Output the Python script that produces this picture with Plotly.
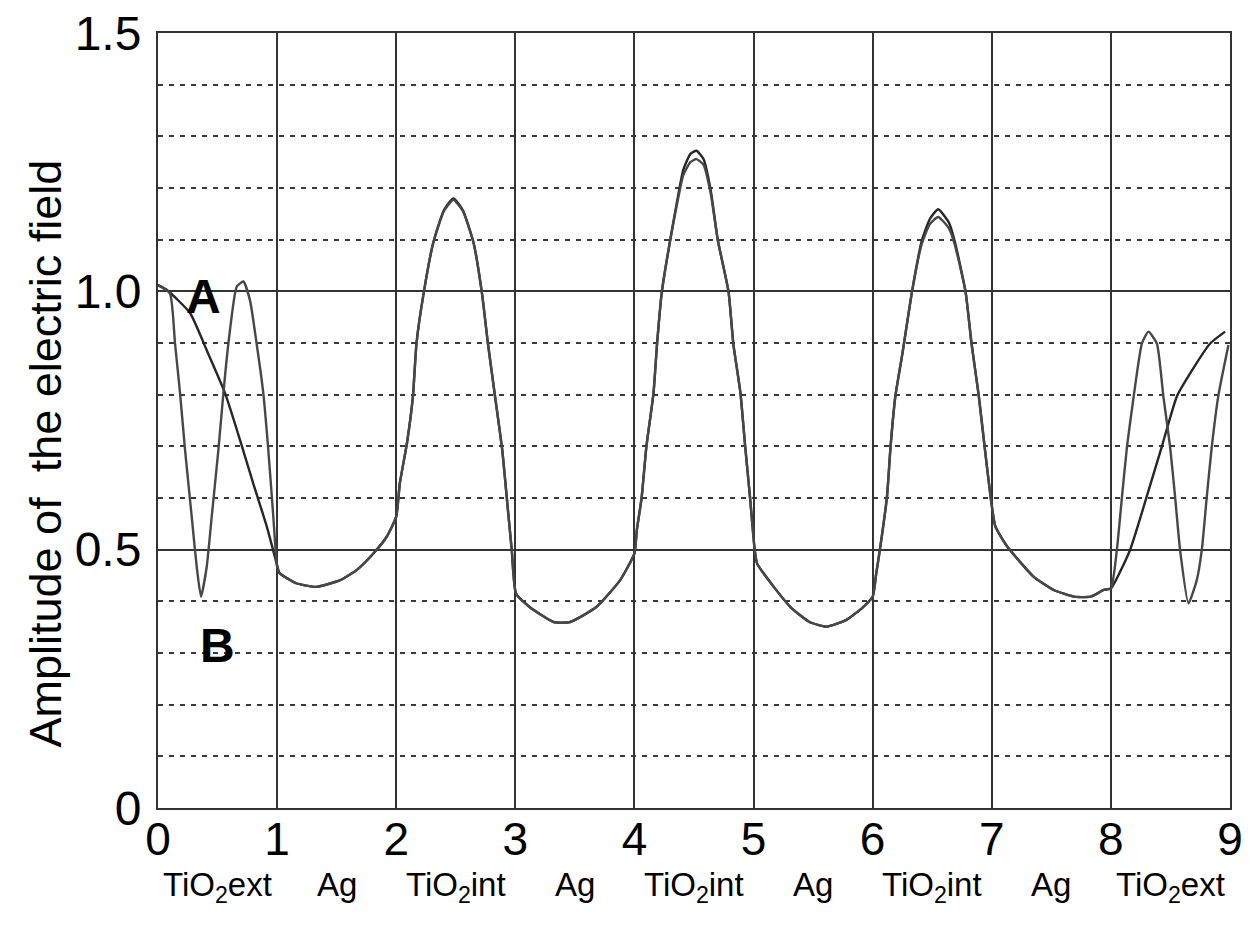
import plotly.graph_objects as go

# Middle region (common to both curves), x from 1 to 8
x_mid = [1.00, 1.02, 1.16, 1.33, 1.53, 1.67, 1.81, 1.92, 2.00, 2.03, 2.09, 2.14, 2.17, 2.23, 2.31,
         2.40, 2.48, 2.56, 2.65, 2.72, 2.77, 2.83, 2.89, 2.93, 2.97, 3.006, 3.12, 3.32, 3.46, 3.68,
         3.88, 4.00, 4.02, 4.06, 4.10, 4.16, 4.19, 4.23, 4.30, 4.36, 4.41, 4.47, 4.52, 4.58, 4.64,
         4.70, 4.79, 4.83, 4.89, 4.93, 4.97, 5.01, 5.03, 5.17, 5.31, 5.47, 5.61, 5.78, 5.92, 6.00,
         6.03, 6.06, 6.12, 6.15, 6.19, 6.25, 6.33, 6.41, 6.48, 6.55, 6.64, 6.69, 6.78, 6.83, 6.89,
         6.94, 6.99, 7.03, 7.13, 7.35, 7.52, 7.69, 7.83, 7.94, 8.00]
y_mid_A = [0.470, 0.455, 0.435, 0.428, 0.441, 0.461, 0.493, 0.525, 0.564, 0.628, 0.706, 0.796, 0.899, 0.996, 1.093,
           1.157, 1.180, 1.157, 1.093, 0.996, 0.899, 0.796, 0.693, 0.596, 0.499, 0.415, 0.389, 0.360, 0.360, 0.389,
           0.441, 0.493, 0.538, 0.600, 0.699, 0.803, 0.899, 0.999, 1.099, 1.177, 1.235, 1.266, 1.272, 1.256, 1.196,
           1.099, 0.999, 0.899, 0.803, 0.699, 0.602, 0.499, 0.473, 0.428, 0.389, 0.360, 0.351, 0.364, 0.389, 0.409,
           0.454, 0.499, 0.602, 0.699, 0.796, 0.880, 0.999, 1.096, 1.140, 1.159, 1.133, 1.096, 0.999, 0.899, 0.799,
           0.699, 0.602, 0.545, 0.506, 0.448, 0.422, 0.409, 0.409, 0.422, 0.425]
y_mid_B = [0.467, 0.455, 0.435, 0.428, 0.441, 0.461, 0.493, 0.525, 0.564, 0.628, 0.706, 0.796, 0.899, 0.996, 1.093,
           1.155, 1.177, 1.155, 1.093, 0.996, 0.899, 0.796, 0.693, 0.596, 0.499, 0.415, 0.389, 0.360, 0.360, 0.389,
           0.441, 0.493, 0.538, 0.600, 0.699, 0.803, 0.899, 0.999, 1.099, 1.172, 1.225, 1.250, 1.256, 1.245, 1.190,
           1.099, 0.999, 0.899, 0.803, 0.699, 0.602, 0.499, 0.473, 0.428, 0.389, 0.360, 0.351, 0.364, 0.389, 0.409,
           0.454, 0.499, 0.602, 0.699, 0.796, 0.880, 0.999, 1.090, 1.130, 1.144, 1.122, 1.090, 0.999, 0.899, 0.799,
           0.699, 0.602, 0.545, 0.506, 0.448, 0.422, 0.409, 0.409, 0.422, 0.425]

# Outer TiO2 layers
x_left_A = [0.0, 0.073, 0.269, 0.409, 0.563, 0.689, 0.800, 0.913]
y_left_A = [1.012, 1.003, 0.958, 0.886, 0.803, 0.712, 0.628, 0.545]
x_left_B = [0.0, 0.10, 0.143, 0.185, 0.227, 0.283, 0.325, 0.361, 0.409, 0.451, 0.507, 0.549, 0.591,
            0.661, 0.717, 0.772, 0.828, 0.884, 0.926, 0.968]
y_left_B = [1.012, 0.996, 0.899, 0.803, 0.693, 0.564, 0.467, 0.409, 0.467, 0.564, 0.693, 0.803, 0.899,
            1.009, 1.019, 0.983, 0.899, 0.803, 0.693, 0.564]
x_right_A = [8.16, 8.30, 8.427, 8.553, 8.665, 8.833, 8.959]
y_right_A = [0.499, 0.602, 0.699, 0.796, 0.841, 0.899, 0.922]
x_right_B = [8.05, 8.093, 8.135, 8.191, 8.26, 8.315, 8.386, 8.441, 8.497, 8.539, 8.581, 8.651,
             8.721, 8.763, 8.805, 8.847, 8.903, 8.987]
y_right_B = [0.499, 0.602, 0.699, 0.796, 0.899, 0.922, 0.899, 0.796, 0.699, 0.602, 0.499, 0.396,
             0.441, 0.499, 0.602, 0.699, 0.799, 0.896]

x_ticks = [0, 1, 2, 3, 4, 5, 6, 7, 8, 9]
y_ticks = [0, 0.5, 1.0, 1.5]
y_tick_text = ["0", "0.5", "1.0", "1.5"]
layer_pos = [0.5, 1.5, 2.5, 3.5, 4.5, 5.5, 6.5, 7.5, 8.5]
layer_names = ["TiO<sub>2</sub>ext", "Ag", "TiO<sub>2</sub>int", "Ag", "TiO<sub>2</sub>int",
               "Ag", "TiO<sub>2</sub>int", "Ag", "TiO<sub>2</sub>ext"]

xA = x_left_A + x_mid + x_right_A
yA = y_left_A + y_mid_A + y_right_A
xB = x_left_B + x_mid + x_right_B
yB = y_left_B + y_mid_B + y_right_B

FONT = "Liberation Sans, Arial, sans-serif"

fig = go.Figure()
fig.add_trace(go.Scatter(x=xA, y=yA, mode="lines",
                         line=dict(color="#262626", width=2.4, shape="spline", smoothing=0.5), showlegend=False))
fig.add_trace(go.Scatter(x=xB, y=yB, mode="lines",
                         line=dict(color="#474747", width=2.4, shape="spline", smoothing=0.5), showlegend=False))

# page body has an 8px default margin; compensate
fig.update_layout(
    width=1246, height=929,
    margin=dict(l=150, r=24, t=25, b=129, autoexpand=False),
    paper_bgcolor="white", plot_bgcolor="white",
    font=dict(family=FONT, color="black"),
)
fig.update_xaxes(
    range=[0, 9], tickvals=x_ticks, ticks="", showgrid=True, gridcolor="#333333", gridwidth=2,
    showline=True, mirror=True, linecolor="#333333", linewidth=2, zeroline=False,
    tickfont=dict(size=46, family=FONT, color="black"), ticklabelstandoff=-10,
    ticklabeloverflow="allow", automargin=False,
)
fig.update_yaxes(
    range=[0, 1.5], tickvals=y_ticks, ticktext=y_tick_text, ticks="", showgrid=True,
    gridcolor="#333333", gridwidth=2,
    minor=dict(dtick=0.1, tick0=0, showgrid=True, gridcolor="#3a3a3a", gridwidth=2.2, griddash="5px,6px"),
    showline=True, mirror=True, linecolor="#333333", linewidth=2, zeroline=False,
    tickfont=dict(size=48, family=FONT, color="black"), ticklabelstandoff=5,
    ticklabeloverflow="allow", automargin=False,
)

for xp, name in zip(layer_pos, layer_names):
    fig.add_annotation(x=xp, y=-0.072, xref="x", yref="paper", text=name, showarrow=False,
                       font=dict(size=33, family=FONT, color="black"), yanchor="top")

fig.add_annotation(x=-0.105, y=0.458, xref="paper", yref="paper", text="Amplitude of  the electric field",
                   textangle=-90, showarrow=False, xanchor="center", yanchor="middle",
                   font=dict(size=45, family=FONT, color="black"))
fig.add_annotation(x=0.38, y=0.99, xref="x", yref="y", text="<b>A</b>", showarrow=False,
                   font=dict(size=48, family=FONT, color="black"))
fig.add_annotation(x=0.50, y=0.315, xref="x", yref="y", text="<b>B</b>", showarrow=False,
                   font=dict(size=48, family=FONT, color="black"))

fig.write_html("out.html")
